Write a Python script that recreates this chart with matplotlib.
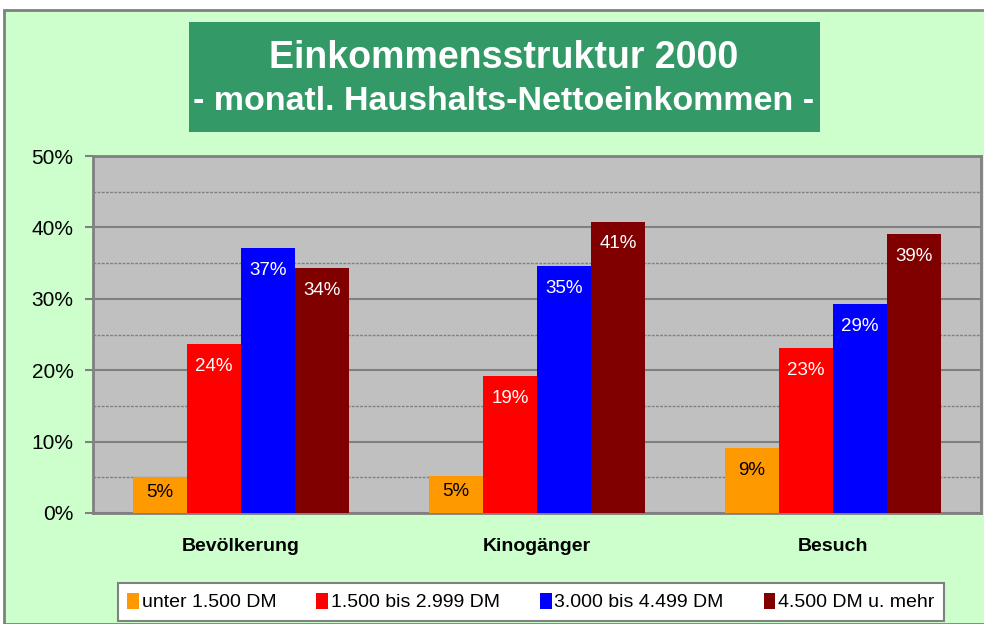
import matplotlib.pyplot as plt
from matplotlib.patches import Rectangle
import numpy as np

plt.rcParams['font.family'] = ['Liberation Sans', 'DejaVu Sans']

# Anteile je Einkommensklasse (in %)
categories = ['Bevölkerung', 'Kinogänger', 'Besuch']
series_names = ['unter 1.500 DM', '1.500 bis 2.999 DM', '3.000 bis 4.499 DM', '4.500 DM u. mehr']
unter_1500 = [5.0, 5.2, 9.1]
bis_2999 = [23.7, 19.2, 23.1]
bis_4499 = [37.1, 34.6, 29.3]
ab_4500 = [34.3, 40.8, 39.1]
yticks = [0, 10, 20, 30, 40, 50]

colors = ['#FF9900', '#FF0000', '#0000FF', '#800000']
label_colors = ['black', 'white', 'white', 'white']

W, H = 984, 624
fig = plt.figure(figsize=(W / 100, H / 100), dpi=100)
fig.patch.set_facecolor('white')

# green chart area with grey border
fig.add_artist(Rectangle((4 / W, 0), 1, 1 - 10 / H, transform=fig.transFigure,
                         facecolor='#CCFFCC', edgecolor='#808080', lw=2, zorder=-5))

# title box
fig.add_artist(Rectangle((189 / W, 1 - 132 / H), (820 - 189) / W, 110 / H,
                         transform=fig.transFigure, facecolor='#339966', edgecolor='none',
                         zorder=-4))
fig.text(504 / W, 1 - 58 / H, 'Einkommensstruktur 2000', ha='center', va='center',
         color='white', fontsize=27, fontweight='bold')
fig.text(504 / W, 1 - 101 / H, '- monatl. Haushalts-Nettoeinkommen -', ha='center', va='center',
         color='white', fontsize=24.5, fontweight='bold')

ax = fig.add_axes([93 / W, (H - 513) / H, (981 - 93) / W, (513 - 156) / H])
ax.set_facecolor('#C0C0C0')

x = np.arange(len(categories))
width = 0.183
data = [unter_1500, bis_2999, bis_4499, ab_4500]
for i, (vals, c) in enumerate(zip(data, colors)):
    pos = x + (i - 1.5) * width
    ax.bar(pos, vals, width, color=c, zorder=3, label=series_names[i])
    for px, v in zip(pos, vals):
        off = -16 if v > 8 else -11
        ax.annotate(f'{v:.0f}%', (px, v), xytext=(0, off), textcoords='offset points',
                    ha='center', va='center', color=label_colors[i], fontsize=13.5, zorder=4)

ax.set_xlim(-0.5, 2.5)
ax.set_ylim(0, 50)
ax.set_yticks(yticks)
ax.set_yticklabels([f'{t}%' for t in yticks], fontsize=15)
ax.set_yticks(np.arange(5, 50, 10), minor=True)
ax.yaxis.grid(True, which='major', color='#808080', lw=1.5, zorder=1)
ax.yaxis.grid(True, which='minor', color='#808080', lw=1, ls=(0, (2, 1)), zorder=1)
ax.tick_params(axis='y', which='major', length=6, width=1.5, color='#808080', pad=8)
ax.tick_params(axis='y', which='minor', length=0)
ax.set_xticks(x)
ax.set_xticklabels(categories, fontsize=14, fontweight='bold')
ax.tick_params(axis='x', length=0, pad=18)
for s in ax.spines.values():
    s.set_color('#808080')
    s.set_linewidth(2)

leg = fig.legend(loc='center', bbox_to_anchor=(531 / W, 1 - 602 / H), ncol=4, fontsize=14,
                 frameon=True, fancybox=False, edgecolor='#808080', facecolor='white',
                 handlelength=0.6, handleheight=0.9, handletextpad=0.15, columnspacing=2.05,
                 borderpad=0.5, borderaxespad=0)
leg.get_frame().set_linewidth(1.5)
leg.get_frame().set_alpha(1)

fig.savefig('out.png', dpi=100)
